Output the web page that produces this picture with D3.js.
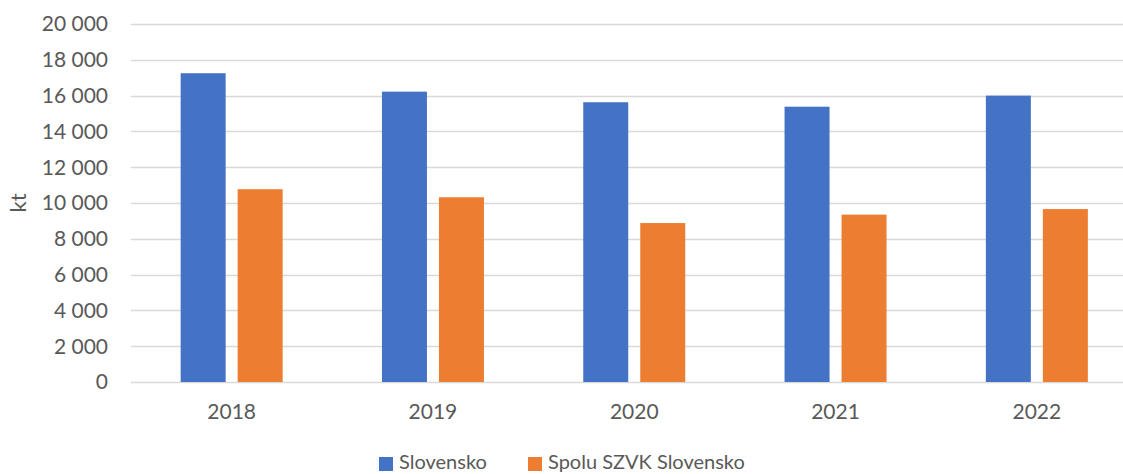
<!DOCTYPE html>
<html>
<head>
<meta charset="utf-8">
<script src="https://cdn.jsdelivr.net/npm/d3@7"></script>
<style>
    html, body { margin: 0; padding: 0; background: #fff; overflow: hidden; }
    svg { display: block; }
    text { font-family: Lato, "Open Sans", sans-serif; fill: #595959; }
</style>
</head>
<body>
<div id="chart"></div>
<script>
// data
const years = ['2018', '2019', '2020', '2021', '2022'];
const seriesNames = ['Slovensko', 'Spolu SZVK Slovensko'];
const slovensko = [17250, 16220, 15630, 15380, 16000];
const spoluSzvk = [10770, 10320, 8880, 9350, 9660];
const yTicks = [0, 2000, 4000, 6000, 8000, 10000, 12000, 14000, 16000, 18000, 20000];
const colors = ['#4472C4', '#ED7D31'];

const width = 1123, height = 474;
const plot = { left: 131, right: 1137.5, top: 24, bottom: 382 };

const svg = d3.select('#chart').append('svg')
    .attr('width', width)
    .attr('height', height);

const y = d3.scaleLinear()
    .domain([0, 20000])
    .range([plot.bottom, plot.top]);

const x0 = d3.scaleBand()
    .domain(years)
    .range([plot.left, plot.right])
    .paddingInner(0)
    .paddingOuter(0);

// two bars of 45px with a 12px gap inside each category
const groupWidth = 102;
const x1 = d3.scaleBand()
    .domain(seriesNames)
    .range([0, groupWidth])
    .paddingInner(12 / 57)
    .paddingOuter(0);
const groupOffset = (x0.bandwidth() - groupWidth) / 2;

// gridlines
svg.append('g')
    .selectAll('line')
    .data(yTicks)
    .enter()
    .append('line')
    .attr('x1', plot.left)
    .attr('x2', plot.right)
    .attr('y1', d => Math.round(y(d)) + 0.5)
    .attr('y2', d => Math.round(y(d)) + 0.5)
    .style('stroke', '#D9D9D9')
    .style('stroke-width', 1.5);

// y axis labels, space as thousands separator
svg.append('g')
    .selectAll('text')
    .data(yTicks)
    .enter()
    .append('text')
    .attr('x', 108)
    .attr('y', d => y(d))
    .attr('dy', '0.35em')
    .attr('text-anchor', 'end')
    .style('font-size', '21px')
    .text(d => d3.format(',')(d).replace(/,/g, ' '));

// axis title
svg.append('text')
    .attr('transform', `translate(26, ${y(10000)}) rotate(-90)`)
    .attr('text-anchor', 'middle')
    .style('font-size', '22px')
    .text('kt');

// bars
const rows = years.map((yr, i) => ({ year: yr, values: [slovensko[i], spoluSzvk[i]] }));
const groups = svg.append('g')
    .selectAll('g')
    .data(rows)
    .enter()
    .append('g')
    .attr('transform', d => `translate(${x0(d.year) + groupOffset},0)`);

groups.selectAll('rect')
    .data(d => d.values.map((v, j) => ({ name: seriesNames[j], value: v, idx: j })))
    .enter()
    .append('rect')
    .attr('x', d => x1(d.name))
    .attr('y', d => y(d.value))
    .attr('width', x1.bandwidth())
    .attr('height', d => y(0) - y(d.value))
    .style('fill', d => colors[d.idx]);

// x axis labels
svg.append('g')
    .selectAll('text')
    .data(years)
    .enter()
    .append('text')
    .attr('x', d => x0(d) + x0.bandwidth() / 2)
    .attr('y', 419)
    .attr('text-anchor', 'middle')
    .style('font-size', '21px')
    .text(d => d);

// legend (nudged up a little so the descenders stay inside the picture)
const legendX = [379, 528];
const legend = svg.append('g')
    .selectAll('g')
    .data(seriesNames)
    .enter()
    .append('g')
    .attr('transform', (d, i) => `translate(${legendX[i]},0)`);

legend.append('rect')
    .attr('x', 0)
    .attr('y', 457)
    .attr('width', 14)
    .attr('height', 14)
    .style('fill', (d, i) => colors[i]);

legend.append('text')
    .attr('x', 20)
    .attr('y', 469)
    .style('font-size', '20px')
    .text(d => d);
</script>
</body>
</html>
